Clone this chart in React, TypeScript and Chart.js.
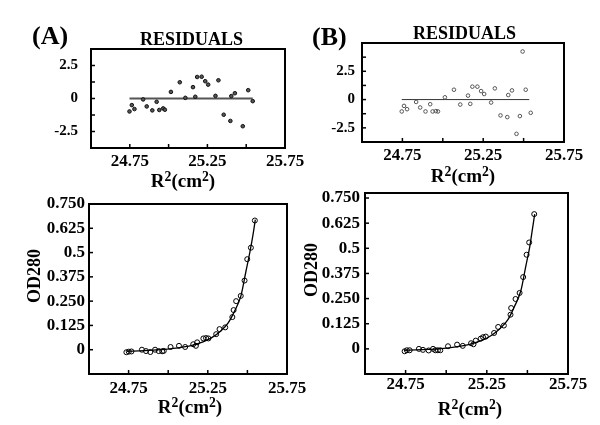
import React, { useEffect, useRef } from "react";
import { Chart, registerables } from "chart.js";

Chart.register(...registerables);

// ---------- data ----------
const X_TICKS = [24.5, 24.75, 25.0, 25.25, 25.5, 25.75];
const X_LABELS = ["", "24.75", "", "25.25", "", "25.75"];

const RES_A_TICKS = [-3.75, -2.5, -1.25, 0, 1.25, 2.5, 3.75];
const RES_A_LABELS = ["", "-2.5", "", "0", "", "2.5", ""];
const RES_B_TICKS = [-3.75, -2.5, -1.25, 0, 1.25, 2.5, 3.75, 5];
const RES_B_LABELS = ["", "-2.5", "", "0", "", "2.5", "", ""];

const OD_TICKS = [-0.125, 0, 0.125, 0.25, 0.375, 0.5, 0.625, 0.75];
const OD_LABELS = ["", "0", "0.125", "0.250", "0.375", "0.5", "0.625", "0.750"];

const RES_A_X = [24.748, 24.763, 24.78, 24.836, 24.859, 24.895, 24.923, 24.94, 24.965, 24.976, 25.015, 25.072, 25.108, 25.157, 25.172, 25.184, 25.213, 25.236, 25.255, 25.302, 25.321, 25.355, 25.398, 25.404, 25.427, 25.478, 25.513, 25.542];
const RES_A_Y = [-0.98, -0.5, -0.8, -0.07, -0.6, -0.9, -0.25, -0.87, -0.75, -0.85, 0.5, 1.23, 0.05, 0.86, 0.13, 1.63, 1.65, 1.31, 1.05, 0.2, 1.38, -1.23, -1.7, 0.18, 0.4, -2.1, 0.63, -0.2];

const RES_B_X = [24.746, 24.76, 24.779, 24.835, 24.86, 24.893, 24.922, 24.937, 24.957, 24.97, 25.013, 25.069, 25.108, 25.156, 25.17, 25.183, 25.214, 25.237, 25.256, 25.299, 25.322, 25.357, 25.399, 25.405, 25.428, 25.456, 25.477, 25.494, 25.513, 25.544];
const RES_B_Y = [-1.05, -0.56, -0.85, -0.21, -0.7, -1.05, -0.41, -1.05, -1.02, -1.05, 0.2, 0.87, -0.44, 0.35, -0.38, 1.14, 1.14, 0.75, 0.49, -0.26, 0.99, -1.4, -1.55, 0.4, 0.81, -3.03, -1.46, 4.25, 0.87, -1.17];

const ZERO_A_X = [24.748, 25.542];
const ZERO_B_X = [24.746, 25.535];

const OD_A_X = [24.736, 24.751, 24.768, 24.834, 24.86, 24.887, 24.917, 24.94, 24.962, 24.972, 25.015, 25.068, 25.107, 25.158, 25.175, 25.183, 25.222, 25.239, 25.254, 25.303, 25.324, 25.36, 25.405, 25.413, 25.429, 25.458, 25.482, 25.499, 25.522, 25.547];
const OD_A_Y = [-0.013, -0.01, -0.009, 0.0, -0.007, -0.012, 0.0, -0.007, -0.008, -0.006, 0.014, 0.02, 0.014, 0.028, 0.02, 0.038, 0.058, 0.06, 0.058, 0.08, 0.106, 0.115, 0.168, 0.204, 0.25, 0.277, 0.356, 0.466, 0.525, 0.665];

const OD_B_X = [24.744, 24.758, 24.775, 24.832, 24.857, 24.892, 24.919, 24.933, 24.949, 24.964, 25.011, 25.067, 25.102, 25.153, 25.168, 25.182, 25.213, 25.227, 25.244, 25.295, 25.32, 25.355, 25.396, 25.4, 25.427, 25.452, 25.474, 25.495, 25.511, 25.542];
const OD_B_Y = [-0.012, -0.007, -0.007, 0.0, -0.005, -0.008, 0.0, -0.007, -0.007, -0.007, 0.013, 0.021, 0.015, 0.028, 0.023, 0.041, 0.051, 0.058, 0.061, 0.079, 0.109, 0.116, 0.17, 0.203, 0.248, 0.278, 0.357, 0.468, 0.529, 0.67];

const FIT_A_X = [24.74, 24.85, 24.95, 25.05, 25.15, 25.22, 25.28, 25.33, 25.38, 25.42, 25.46, 25.49, 25.515, 25.535, 25.55];
const FIT_A_Y = [-0.008, -0.005, 0.0, 0.008, 0.022, 0.04, 0.065, 0.095, 0.14, 0.2, 0.28, 0.4, 0.5, 0.59, 0.67];
const FIT_B_X = [24.74, 24.85, 24.95, 25.05, 25.15, 25.22, 25.28, 25.33, 25.38, 25.42, 25.46, 25.49, 25.515, 25.53, 25.545];
const FIT_B_Y = [-0.008, -0.004, 0.0, 0.009, 0.024, 0.042, 0.068, 0.1, 0.145, 0.21, 0.29, 0.41, 0.51, 0.59, 0.67];

// ---------- helpers ----------
const SERIF = "'Liberation Serif', 'Times New Roman', serif";
const pts = (xs: number[], ys: number[]) => xs.map((x, i) => ({ x, y: ys[i] }));

const framePlugin = {
  id: "frame",
  afterDraw(chart: any, _args: any, opts: any) {
    const { ctx, chartArea } = chart;
    const { left, top, right, bottom } = chartArea;
    ctx.save();
    ctx.strokeStyle = "#000";
    ctx.lineWidth = opts.width || 2;
    ctx.strokeRect(left, top, right - left, bottom - top);
    ctx.lineWidth = 1.5;
    const xs = chart.scales.x;
    const ys = chart.scales.y;
    xs.ticks.forEach((t: any) => {
      const p = xs.getPixelForValue(t.value);
      ctx.beginPath();
      ctx.moveTo(p, bottom);
      ctx.lineTo(p, bottom - 4);
      ctx.stroke();
    });
    ys.ticks.forEach((t: any) => {
      const p = ys.getPixelForValue(t.value);
      ctx.beginPath();
      ctx.moveTo(left, p);
      ctx.lineTo(left + 4, p);
      ctx.stroke();
    });
    ctx.restore();
  },
};

type Box = { l: number; t: number; r: number; b: number };
type Div = { l: number; t: number; w: number; h: number };

interface PanelSpec {
  div: Div;
  box: Box;
  datasets: any[];
  yMin: number;
  yMax: number;
  yTicks: number[];
  yLabels: string[];
  yFont: number;
  yPad: number;
  xPad: number;
}

function Panel({ spec }: { spec: PanelSpec }) {
  const ref = useRef<HTMLCanvasElement | null>(null);
  useEffect(() => {
    const { div, box } = spec;
    const yW = box.l - div.l;
    const xH = div.t + div.h - box.b;
    const chart = new Chart(ref.current as HTMLCanvasElement, {
      type: "scatter",
      data: { datasets: spec.datasets },
      plugins: [framePlugin],
      options: {
        animation: false,
        responsive: false,
        events: [],
        layout: {
          padding: { top: box.t - div.t, right: div.l + div.w - box.r, left: 0, bottom: 0 },
        },
        plugins: { legend: { display: false }, tooltip: { enabled: false }, frame: { width: 2 } } as any,
        scales: {
          x: {
            type: "linear",
            min: 24.5,
            max: 25.75,
            afterBuildTicks: (s: any) => {
              s.ticks = X_TICKS.map((v) => ({ value: v }));
            },
            afterFit: (s: any) => {
              s.height = xH;
              s.paddingLeft = 0;
              s.paddingRight = 0;
            },
            grid: { display: false, drawTicks: false },
            border: { display: false },
            ticks: {
              autoSkip: false,
              maxRotation: 0,
              padding: spec.xPad,
              color: "#000",
              font: { family: SERIF, size: 17, weight: "bold", lineHeight: 1 },
              callback: (_v: any, i: number) => X_LABELS[i],
            },
          },
          y: {
            type: "linear",
            min: spec.yMin,
            max: spec.yMax,
            afterBuildTicks: (s: any) => {
              s.ticks = spec.yTicks.map((v) => ({ value: v }));
            },
            afterFit: (s: any) => {
              s.width = yW;
              s.paddingTop = 0;
              s.paddingBottom = 0;
            },
            grid: { display: false, drawTicks: false },
            border: { display: false },
            ticks: {
              autoSkip: false,
              padding: spec.yPad,
              color: "#000",
              font: { family: SERIF, size: spec.yFont, weight: "bold", lineHeight: 1 },
              callback: (_v: any, i: number) => spec.yLabels[i],
            },
          },
        },
      } as any,
    });
    return () => chart.destroy();
  }, [spec]);
  const { div } = spec;
  return (
    <canvas
      ref={ref}
      width={div.w}
      height={div.h}
      style={{ position: "absolute", left: div.l, top: div.t, width: div.w, height: div.h }}
    />
  );
}

const resA: PanelSpec = {
  div: { l: 0, t: 40, w: 330, h: 140 },
  box: { l: 91, t: 49, r: 285, b: 148 },
  yMin: -3.75,
  yMax: 3.75,
  yTicks: RES_A_TICKS,
  yLabels: RES_A_LABELS,
  yFont: 15,
  yPad: 13,
  xPad: 5,
  datasets: [
    {
      data: pts(RES_A_X, RES_A_Y),
      pointRadius: 1.8,
      pointBackgroundColor: "#555",
      pointBorderColor: "#111",
      pointBorderWidth: 1,
    },
    {
      data: ZERO_A_X.map((x) => ({ x, y: 0 })),
      showLine: true,
      pointRadius: 0,
      borderColor: "#555",
      borderWidth: 2,
    },
  ],
};

const resB: PanelSpec = {
  div: { l: 300, t: 35, w: 300, h: 140 },
  box: { l: 362, t: 43, r: 564, b: 142 },
  yMin: -3.75,
  yMax: 5,
  yTicks: RES_B_TICKS,
  yLabels: RES_B_LABELS,
  yFont: 15,
  yPad: 7,
  xPad: 5,
  datasets: [
    {
      data: pts(RES_B_X, RES_B_Y),
      pointRadius: 1.8,
      pointBackgroundColor: "rgba(255,255,255,0)",
      pointBorderColor: "#555",
      pointBorderWidth: 1,
    },
    {
      data: ZERO_B_X.map((x) => ({ x, y: 0 })),
      showLine: true,
      pointRadius: 0,
      borderColor: "#333",
      borderWidth: 1,
    },
  ],
};

const odA: PanelSpec = {
  div: { l: 0, t: 192, w: 330, h: 218 },
  box: { l: 89, t: 204, r: 287, b: 374 },
  yMin: -0.125,
  yMax: 0.75,
  yTicks: OD_TICKS,
  yLabels: OD_LABELS,
  yFont: 17,
  yPad: 4,
  xPad: 6,
  datasets: [
    {
      data: pts(OD_A_X, OD_A_Y),
      pointRadius: 2.5,
      pointBackgroundColor: "rgba(255,255,255,0)",
      pointBorderColor: "#000",
      pointBorderWidth: 1,
    },
    {
      data: pts(FIT_A_X, FIT_A_Y),
      showLine: true,
      pointRadius: 0,
      borderColor: "#000",
      borderWidth: 1.3,
      cubicInterpolationMode: "monotone",
    },
  ],
};

const odB: PanelSpec = {
  div: { l: 300, t: 182, w: 300, h: 228 },
  box: { l: 365, t: 193, r: 568, b: 374 },
  yMin: -0.125,
  yMax: 0.775,
  yTicks: OD_TICKS,
  yLabels: OD_LABELS,
  yFont: 17,
  yPad: 5,
  xPad: 2,
  datasets: [
    {
      data: pts(OD_B_X, OD_B_Y),
      pointRadius: 2.5,
      pointBackgroundColor: "rgba(255,255,255,0)",
      pointBorderColor: "#000",
      pointBorderWidth: 1,
    },
    {
      data: pts(FIT_B_X, FIT_B_Y),
      showLine: true,
      pointRadius: 0,
      borderColor: "#000",
      borderWidth: 1.3,
      cubicInterpolationMode: "monotone",
    },
  ],
};

const txt = (extra: React.CSSProperties): React.CSSProperties => ({
  position: "absolute",
  fontFamily: SERIF,
  fontWeight: "bold",
  lineHeight: 1,
  whiteSpace: "nowrap",
  color: "#000",
  ...extra,
});

function RLabel({ cx, top }: { cx: number; top: number }) {
  const sup: React.CSSProperties = { fontSize: "0.72em", position: "relative", top: "-0.45em" };
  return (
    <div style={txt({ left: cx, top, fontSize: 19, transform: "translateX(-50%)" })}>
      R<span style={sup}>2</span>(cm<span style={sup}>2</span>)
    </div>
  );
}

function OdLabel({ cx, cy }: { cx: number; cy: number }) {
  return (
    <div
      style={txt({
        left: cx,
        top: cy,
        fontSize: 18,
        transform: "translate(-50%, -50%) rotate(-90deg)",
      })}
    >
      OD280
    </div>
  );
}

export default function App() {
  return (
    <div
      style={{
        position: "fixed",
        left: 0,
        top: 0,
        width: 600,
        height: 425,
        background: "#fff",
        overflow: "hidden",
      }}
    >
      <Panel spec={resA} />
      <Panel spec={resB} />
      <Panel spec={odA} />
      <Panel spec={odB} />
      <div style={txt({ left: 32, top: 23, fontSize: 26 })}>(A)</div>
      <div style={txt({ left: 312, top: 24, fontSize: 26 })}>(B)</div>
      <div style={txt({ left: 140, top: 30, fontSize: 18 })}>RESIDUALS</div>
      <div style={txt({ left: 413, top: 24, fontSize: 18 })}>RESIDUALS</div>
      <RLabel cx={183} top={171} />
      <RLabel cx={463} top={166} />
      <RLabel cx={190} top={397} />
      <RLabel cx={470} top={399} />
      <OdLabel cx={34} cy={276} />
      <OdLabel cx={311} cy={270} />
    </div>
  );
}
